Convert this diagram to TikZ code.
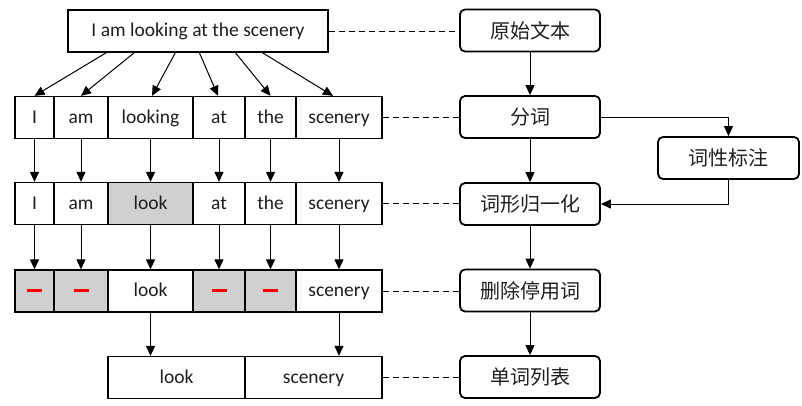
\documentclass[tikz,border=0pt]{standalone}
\usepackage{fontspec}
\setmainfont{Carlito}
\newfontfamily\cjk{Noto Sans CJK SC}
\usetikzlibrary{arrows.meta,calc}
\definecolor{cellgray}{HTML}{D0D0D0}
\definecolor{txt}{HTML}{1E1E1E}
\newcommand{\stopmark}{\textcolor{red}{\rule[5pt]{15pt}{2.6pt}}}
\begin{document}
\begin{tikzpicture}[x=1pt,y=-1pt,
  cell/.style={draw=black,line width=1.3pt,minimum height=42pt,inner sep=0pt,text height=15pt,text depth=4pt,text=txt,font=\fontsize{19.5}{22}\selectfont},
  gcell/.style={cell,fill=cellgray},
  stepbox/.style={draw=black,line width=1.8pt,rounded corners=5pt,minimum width=140pt,minimum height=42pt,inner sep=0pt,text=txt,font=\cjk\fontsize{20}{22}\selectfont},
  arr/.style={line width=1pt,-{Triangle[length=10pt,width=9pt]}},
  dashln/.style={line width=1pt,dash pattern=on 6pt off 4pt}
]
\useasboundingbox[fill=white] (0,0) rectangle (802,405);
% top sentence
\node[cell,minimum width=260pt] (top) at (198,31) {I am looking at the scenery};
% row 1
\node[cell,minimum width=39pt] (r1a) at (34.5,117.5) {I};
\node[cell,minimum width=54pt] (r1b) at (81,117.5) {am};
\node[cell,minimum width=85pt] (r1c) at (150.5,117.5) {looking};
\node[cell,minimum width=52pt] (r1d) at (219,117.5) {at};
\node[cell,minimum width=51pt] (r1e) at (270.5,117.5) {the};
\node[cell,minimum width=86pt] (r1f) at (339,117.5) {scenery};
% row 2
\node[cell,minimum width=39pt] (r2a) at (34.5,203.5) {I};
\node[cell,minimum width=54pt] (r2b) at (81,203.5) {am};
\node[gcell,minimum width=85pt] (r2c) at (150.5,203.5) {look};
\node[cell,minimum width=52pt] (r2d) at (219,203.5) {at};
\node[cell,minimum width=51pt] (r2e) at (270.5,203.5) {the};
\node[cell,minimum width=86pt] (r2f) at (339,203.5) {scenery};
% row 3
\node[gcell,minimum width=39pt] (r3a) at (34.5,291) {\stopmark};
\node[gcell,minimum width=54pt] (r3b) at (81,291) {\stopmark};
\node[cell,minimum width=85pt] (r3c) at (150.5,291) {look};
\node[gcell,minimum width=52pt] (r3d) at (219,291) {\stopmark};
\node[gcell,minimum width=51pt] (r3e) at (270.5,291) {\stopmark};
\node[cell,minimum width=86pt] (r3f) at (339,291) {scenery};
% row 4
\node[cell,minimum width=137pt] (r4a) at (176.5,377.5) {look};
\node[cell,minimum width=137pt] (r4b) at (313.5,377.5) {scenery};
% right steps
\node[stepbox] (raw) at (530,30.5) {原始文本};
\node[stepbox] (seg) at (530,117) {分词};
\node[stepbox,minimum width=141pt] (pos) at (728.5,158) {词性标注};
\node[stepbox] (lem) at (530,204) {词形归一化};
\node[stepbox] (stw) at (530,290.5) {删除停用词};
\node[stepbox] (lst) at (530,377) {单词列表};
% arrows top -> row1
\draw[arr] ($(top.south west)+(39,0)$) -- (r1a.north);
\draw[arr] ($(top.south west)+(67,0)$) -- (r1b.north);
\draw[arr] ($(top.south west)+(108,0)$) -- ($(r1c.north)+(1.5,0)$);
\draw[arr] ($(top.south west)+(132,0)$) -- ($(r1d.north)+(-1,0)$);
\draw[arr] ($(top.south west)+(168,0)$) -- (r1e.north);
\draw[arr] ($(top.south west)+(195,0)$) -- ($(r1f.north)+(-6,0)$);
% row1 -> row2
\foreach \c in {a,b,c,d,e,f} \draw[arr] (r1\c.south) -- (r2\c.north);
% row2 -> row3
\foreach \c in {a,b,c,d,e,f} \draw[arr] (r2\c.south) -- (r3\c.north);
% row3 -> row4
\draw[arr] (r3c.south) -- (r3c.south |- r4a.north);
\draw[arr] (r3f.south) -- (r3f.south |- r4b.north);
% right column flow
\draw[arr] (raw.south) -- (seg.north);
\draw[arr] (seg.south) -- (lem.north);
\draw[arr] (lem.south) -- (stw.north);
\draw[arr] (stw.south) -- (lst.north);
\draw[arr] (seg.east) -| (pos.north);
\draw[arr] (pos.south) |- (lem.east);
% dashed links
\draw[dashln] (top.east) -- (raw.west |- top.east);
\draw[dashln] (r1f.east) -- (seg.west |- r1f.east);
\draw[dashln] (r2f.east) -- (lem.west |- r2f.east);
\draw[dashln] (r3f.east) -- (stw.west |- r3f.east);
\draw[dashln] (r4b.east) -- (lst.west |- r4b.east);
\end{tikzpicture}
\end{document}
